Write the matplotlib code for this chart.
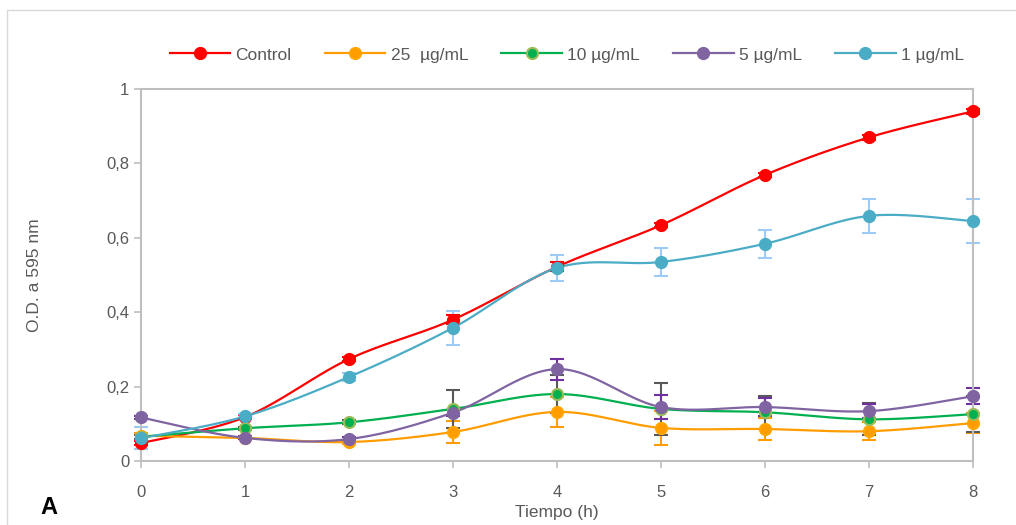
import numpy as np
import matplotlib
matplotlib.use("Agg")
import matplotlib.pyplot as plt
from matplotlib.lines import Line2D
from matplotlib.patches import Rectangle

# --- data --------------------------------------------------------------------
hours = [0, 1, 2, 3, 4, 5, 6, 7, 8]

control     = [0.048, 0.118, 0.274, 0.380, 0.522, 0.634, 0.769, 0.870, 0.940]
control_err = [0.005, 0.005, 0.006, 0.012, 0.012, 0.006, 0.006, 0.006, 0.006]

ug25     = [0.068, 0.062, 0.051, 0.078, 0.132, 0.089, 0.086, 0.080, 0.102]
ug25_err = [0.008, 0.004, 0.004, 0.030, 0.040, 0.046, 0.030, 0.024, 0.027]

ug10     = [0.065, 0.088, 0.104, 0.140, 0.180, 0.140, 0.131, 0.112, 0.126]
ug10_err = [0.005, 0.004, 0.005, 0.052, 0.050, 0.070, 0.045, 0.043, 0.048]

ug5     = [0.117, 0.062, 0.059, 0.130, 0.247, 0.145, 0.145, 0.134, 0.174]
ug5_err = [0.004, 0.004, 0.006, 0.008, 0.028, 0.032, 0.025, 0.018, 0.022]

ug1     = [0.061, 0.120, 0.226, 0.358, 0.519, 0.535, 0.584, 0.659, 0.645]
ug1_err = [0.030, 0.006, 0.010, 0.046, 0.035, 0.038, 0.037, 0.045, 0.060]

labels = ["Control", "25  µg/mL", "10 µg/mL", "5 µg/mL", "1 µg/mL"]
y_ticks = [0, 0.2, 0.4, 0.6, 0.8, 1.0]
y_ticklabels = ["0", "0,2", "0,4", "0,6", "0,8", "1"]

# --- style -------------------------------------------------------------------
TEXT = "#595959"
GRID = "#BFBFBF"
series = [
    # values, errors, line color, marker face, marker edge, error color
    (control, control_err, "#FF0000", "#FF0000", "#FF0000", "#FF0000"),
    (ug25,    ug25_err,    "#FF9C00", "#FF9C00", "#FFA500", "#FF9C00"),
    (ug10,    ug10_err,    "#00B050", "#00B050", "#9BBB59", "#595959"),
    (ug5,     ug5_err,     "#8064A2", "#8064A2", "#8064A2", "#7030A0"),
    (ug1,     ug1_err,     "#4BACC6", "#4BACC6", "#4BACC6", "#9DCBF5"),
]

plt.rcParams["font.family"] = ["Liberation Sans", "DejaVu Sans"]


def smooth(x, y, n=30):
    """Excel-like smoothed line: cubic Bezier through the points."""
    x = np.asarray(x, float)
    y = np.asarray(y, float)
    px = np.concatenate([[x[0]], x, [x[-1]]])
    py = np.concatenate([[y[0]], y, [y[-1]]])
    xs, ys = [], []
    t = np.linspace(0, 1, n)
    for i in range(1, len(px) - 2):
        p0 = np.array([px[i], py[i]])
        p3 = np.array([px[i + 1], py[i + 1]])
        p1 = p0 + (np.array([px[i + 1], py[i + 1]]) - np.array([px[i - 1], py[i - 1]])) / 6
        p2 = p3 - (np.array([px[i + 2], py[i + 2]]) - np.array([px[i], py[i]])) / 6
        b = ((1 - t) ** 3)[:, None] * p0 + (3 * (1 - t) ** 2 * t)[:, None] * p1 \
            + (3 * (1 - t) * t ** 2)[:, None] * p2 + (t ** 3)[:, None] * p3
        xs.extend(b[:, 0])
        ys.extend(b[:, 1])
    return xs, ys


fig = plt.figure(figsize=(10.16, 5.25), dpi=100)
ax = fig.add_axes([141 / 1016, 1 - 461 / 525, (973 - 141) / 1016, (461 - 89) / 525])

# outer chart border
fig.patches.append(Rectangle((7 / 1016, -0.05), 1.2, 1 - 10 / 525 + 0.05,
                             transform=fig.transFigure, fill=False,
                             edgecolor="#D9D9D9", lw=1.0))

handles = []
for (vals, errs, lc, mfc, mec, ec), lab in zip(series, labels):
    eb = ax.errorbar(hours, vals, yerr=errs, fmt="none", ecolor=ec, elinewidth=1.5,
                     capsize=5, capthick=1.5, zorder=2)
    for art in eb.get_children():
        art.set_clip_on(False)
    sx, sy = smooth(hours, vals)
    ax.plot(sx, sy, color=lc, lw=1.6, zorder=3, clip_on=False)
    ax.plot(hours, vals, "o", ms=8, mfc=mfc, mec=mec, mew=1.5, zorder=4, clip_on=False)
    handles.append(Line2D([], [], color=lc, lw=1.6, marker="o", ms=8,
                          mfc=mfc, mec=mec, mew=1.5, label=lab))

ax.set_xlim(0, 8)
ax.set_ylim(0, 1)
ax.set_xticks(hours)
ax.set_yticks(y_ticks)
ax.set_yticklabels(y_ticklabels)
for s in ax.spines.values():
    s.set_color(GRID)
    s.set_linewidth(1.5)
ax.tick_params(colors=GRID, labelcolor=TEXT, labelsize=12, length=5, width=1.2,
               direction="out")
ax.tick_params(axis="x", pad=12)
ax.set_xlabel("Tiempo (h)", color=TEXT, fontsize=12.5, labelpad=4)
ax.set_ylabel("O.D. a 595 nm", color=TEXT, fontsize=12.5, labelpad=46)

fig.legend(handles=handles, loc="center", bbox_to_anchor=(0.558, 1 - 55 / 525),
           ncol=5, frameon=False, fontsize=12.5, handlelength=3.5,
           columnspacing=1.9, handletextpad=0.3, labelcolor=TEXT)

fig.text(40 / 1016, 1 - 508 / 525, "A", fontsize=17, fontweight="bold",
         va="center", ha="left", color="black")

fig.savefig("out.png", dpi=100)
